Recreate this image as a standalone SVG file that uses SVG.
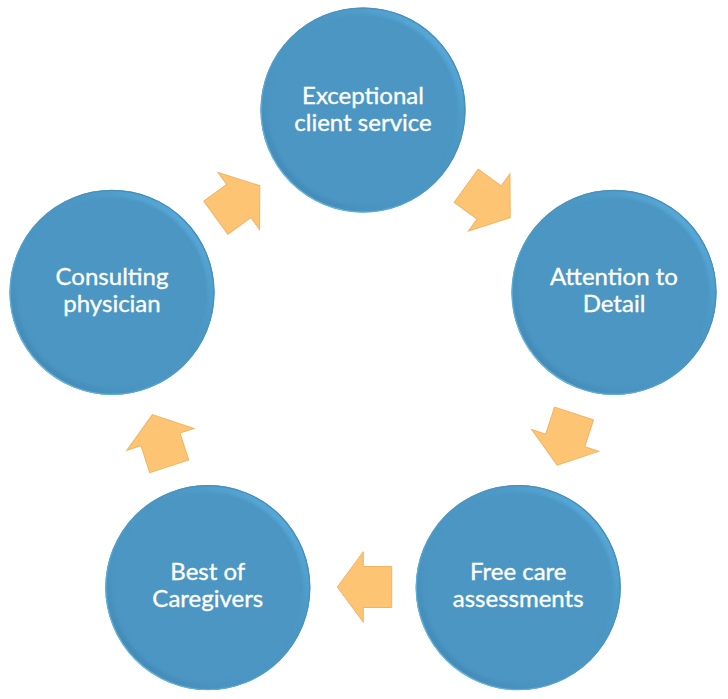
<svg xmlns="http://www.w3.org/2000/svg" width="728" height="699" viewBox="0 0 728 699">
  <defs>
    <linearGradient id="band" x1="1" y1="0" x2="0" y2="1">
      <stop offset="0" stop-color="#62BCEE"/>
      <stop offset="0.45" stop-color="#4B96C3" stop-opacity="0"/>
      <stop offset="0.55" stop-color="#4B96C3" stop-opacity="0"/>
      <stop offset="1" stop-color="#3F80AC"/>
    </linearGradient>
    <linearGradient id="edge" x1="1" y1="0" x2="0" y2="1">
      <stop offset="0" stop-color="#4688B0"/>
      <stop offset="0.5" stop-color="#4B96C3"/>
      <stop offset="1" stop-color="#70CAF2"/>
    </linearGradient>
    <filter id="soft" x="-10%" y="-10%" width="120%" height="120%">
      <feGaussianBlur stdDeviation="1.6"/>
    </filter>
    <circle id="disc" r="102.5"/>
    <clipPath id="clipDisc"><use href="#disc"/></clipPath>
    <g id="node">
      <use href="#disc" fill="#4B96C3"/>
      <g clip-path="url(#clipDisc)">
        <circle r="99" fill="none" stroke="url(#band)" stroke-width="7" filter="url(#soft)"/>
      </g>
      <circle r="102" fill="none" stroke="url(#edge)" stroke-width="1.2"/>
    </g>
    <polygon id="arrow" points="-27.2,-20.5 1.2,-20.5 1.2,-35.3 27.2,0 1.2,35.3 1.2,20.5 -27.2,20.5"/>
  </defs>
  <style>
    .lbl { font-family: "Lato", "Liberation Sans", sans-serif; font-size: 24px; fill: #FFFFFF; stroke: #FFFFFF; stroke-width: 0.35px; text-anchor: middle; }
    .arr { fill: #FDC473; stroke: #F0B463; stroke-width: 1; stroke-linejoin: miter; }
  </style>

  <g id="connectors">
    <use href="#arrow" class="arr" transform="translate(237.8,201.7) rotate(324)"/>
    <use href="#arrow" class="arr" transform="translate(488.2,201.7) rotate(36)"/>
    <use href="#arrow" class="arr" transform="translate(565.6,439.3) rotate(108)"/>
    <use href="#arrow" class="arr" transform="translate(364.5,587) rotate(180)"/>
    <use href="#arrow" class="arr" transform="translate(160.8,440.5) rotate(252)"/>
  </g>

  <g id="node-exceptional" transform="translate(363,110)">
    <use href="#node"/>
    <text class="lbl" x="0" y="-6.5">Exceptional</text>
    <text class="lbl" x="0" y="20.5">client service</text>
  </g>
  <g id="node-attention" transform="translate(614,292.4)">
    <use href="#node"/>
    <text class="lbl" x="0" y="-7.5">Attention to</text>
    <text class="lbl" x="0" y="19.5">Detail</text>
  </g>
  <g id="node-free-care" transform="translate(518.2,587.6)">
    <use href="#node"/>
    <text class="lbl" x="0" y="-7.5">Free care</text>
    <text class="lbl" x="0" y="19.5">assessments</text>
  </g>
  <g id="node-best" transform="translate(207.8,587.6)">
    <use href="#node"/>
    <text class="lbl" x="0" y="-7.5">Best of</text>
    <text class="lbl" x="0" y="19.5">Caregivers</text>
  </g>
  <g id="node-consulting" transform="translate(112,292.4)">
    <use href="#node"/>
    <text class="lbl" x="0" y="-7.5">Consulting</text>
    <text class="lbl" x="0" y="19.5">physician</text>
  </g>
</svg>
